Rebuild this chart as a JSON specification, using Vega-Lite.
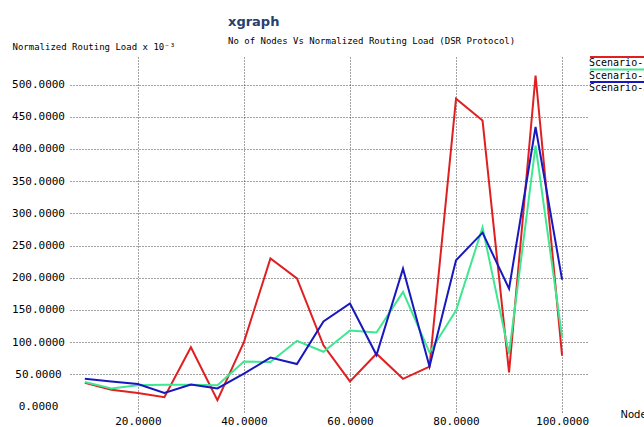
{
  "$schema": "https://vega.github.io/schema/vega-lite/v6.json",
  "width": 517,
  "height": 355,
  "autosize": {"type": "none"},
  "padding": {"left": 70, "top": 57, "right": 57, "bottom": 15},
  "background": "white",
  "title": {
    "text": "xgraph",
    "subtitle": "No of Nodes Vs Normalized Routing Load (DSR Protocol)",
    "anchor": "start",
    "frame": "group",
    "dx": 158,
    "offset": -4,
    "font": "DejaVu Sans",
    "fontSize": 13,
    "fontWeight": "bold",
    "color": "#27406e",
    "subtitleFont": "DejaVu Sans Mono",
    "subtitleFontSize": 9,
    "subtitleColor": "black",
    "subtitlePadding": 8
  },
  "data": {
    "values": [
      {"nodes": 10, "load": 37, "scenario": "Scenario-1"},
      {"nodes": 15, "load": 26, "scenario": "Scenario-1"},
      {"nodes": 20, "load": 21, "scenario": "Scenario-1"},
      {"nodes": 25, "load": 14.5, "scenario": "Scenario-1"},
      {"nodes": 30, "load": 92, "scenario": "Scenario-1"},
      {"nodes": 35, "load": 10, "scenario": "Scenario-1"},
      {"nodes": 40, "load": 100, "scenario": "Scenario-1"},
      {"nodes": 45, "load": 230, "scenario": "Scenario-1"},
      {"nodes": 50, "load": 199, "scenario": "Scenario-1"},
      {"nodes": 55, "load": 95, "scenario": "Scenario-1"},
      {"nodes": 60, "load": 39, "scenario": "Scenario-1"},
      {"nodes": 65, "load": 82, "scenario": "Scenario-1"},
      {"nodes": 70, "load": 43, "scenario": "Scenario-1"},
      {"nodes": 75, "load": 62, "scenario": "Scenario-1"},
      {"nodes": 80, "load": 478, "scenario": "Scenario-1"},
      {"nodes": 85, "load": 444, "scenario": "Scenario-1"},
      {"nodes": 90, "load": 53, "scenario": "Scenario-1"},
      {"nodes": 95, "load": 514, "scenario": "Scenario-1"},
      {"nodes": 100, "load": 79, "scenario": "Scenario-1"},
      {"nodes": 10, "load": 38, "scenario": "Scenario-2"},
      {"nodes": 15, "load": 28, "scenario": "Scenario-2"},
      {"nodes": 20, "load": 33, "scenario": "Scenario-2"},
      {"nodes": 25, "load": 34, "scenario": "Scenario-2"},
      {"nodes": 30, "load": 34, "scenario": "Scenario-2"},
      {"nodes": 35, "load": 33, "scenario": "Scenario-2"},
      {"nodes": 40, "load": 70, "scenario": "Scenario-2"},
      {"nodes": 45, "load": 69, "scenario": "Scenario-2"},
      {"nodes": 50, "load": 102, "scenario": "Scenario-2"},
      {"nodes": 55, "load": 85, "scenario": "Scenario-2"},
      {"nodes": 60, "load": 118, "scenario": "Scenario-2"},
      {"nodes": 65, "load": 115, "scenario": "Scenario-2"},
      {"nodes": 70, "load": 178, "scenario": "Scenario-2"},
      {"nodes": 75, "load": 84, "scenario": "Scenario-2"},
      {"nodes": 80, "load": 149, "scenario": "Scenario-2"},
      {"nodes": 85, "load": 278, "scenario": "Scenario-2"},
      {"nodes": 90, "load": 82, "scenario": "Scenario-2"},
      {"nodes": 95, "load": 405, "scenario": "Scenario-2"},
      {"nodes": 100, "load": 108, "scenario": "Scenario-2"},
      {"nodes": 10, "load": 43, "scenario": "Scenario-3"},
      {"nodes": 15, "load": 39, "scenario": "Scenario-3"},
      {"nodes": 20, "load": 35, "scenario": "Scenario-3"},
      {"nodes": 25, "load": 21, "scenario": "Scenario-3"},
      {"nodes": 30, "load": 34, "scenario": "Scenario-3"},
      {"nodes": 35, "load": 28, "scenario": "Scenario-3"},
      {"nodes": 40, "load": 51, "scenario": "Scenario-3"},
      {"nodes": 45, "load": 76, "scenario": "Scenario-3"},
      {"nodes": 50, "load": 66, "scenario": "Scenario-3"},
      {"nodes": 55, "load": 132, "scenario": "Scenario-3"},
      {"nodes": 60, "load": 160, "scenario": "Scenario-3"},
      {"nodes": 65, "load": 80, "scenario": "Scenario-3"},
      {"nodes": 70, "load": 214, "scenario": "Scenario-3"},
      {"nodes": 75, "load": 62, "scenario": "Scenario-3"},
      {"nodes": 80, "load": 227, "scenario": "Scenario-3"},
      {"nodes": 85, "load": 270, "scenario": "Scenario-3"},
      {"nodes": 90, "load": 183, "scenario": "Scenario-3"},
      {"nodes": 95, "load": 434, "scenario": "Scenario-3"},
      {"nodes": 100, "load": 197, "scenario": "Scenario-3"}
    ]
  },
  "mark": {"type": "line", "strokeWidth": 2, "clip": false},
  "encoding": {
    "x": {
      "field": "nodes",
      "type": "quantitative",
      "scale": {"domain": [7.2, 104.7], "nice": false, "zero": false},
      "axis": {
        "values": [20, 40, 60, 80, 100],
        "format": ".4f",
        "labelPadding": 3,
        "labelFlush": false,
        "title": "Nodes",
        "titleX": 550,
        "titleY": 2,
        "titleAlign": "left",
        "titleBaseline": "middle",
        "titleFont": "DejaVu Sans",
        "titleFontSize": 10,
        "titleFontWeight": "normal"
      }
    },
    "y": {
      "field": "load",
      "type": "quantitative",
      "scale": {"domain": [-8.5, 542.7], "nice": false, "zero": false},
      "axis": {
        "values": [0, 50, 100, 150, 200, 250, 300, 350, 400, 450, 500],
        "format": ".4f",
        "labelAlign": "center",
        "labelBaseline": "middle",
        "labelPadding": 32,
        "gridOpacity": {"condition": {"test": "datum.value == 0", "value": 0}, "value": 1},
        "title": "Normalized Routing Load x 10⁻³",
        "titleAngle": 0,
        "titleX": -58,
        "titleY": -11,
        "titleAlign": "left",
        "titleBaseline": "middle",
        "titleFont": "DejaVu Sans Mono",
        "titleFontSize": 9,
        "titleFontWeight": "normal"
      }
    },
    "color": {
      "field": "scenario",
      "type": "nominal",
      "scale": {
        "domain": ["Scenario-1", "Scenario-2", "Scenario-3"],
        "range": ["#e02020", "#3de890", "#1818c0"]
      },
      "legend": {
        "orient": "none",
        "legendX": 516,
        "legendY": 1,
        "title": null,
        "padding": 0,
        "symbolType": "M -1 -6 L 58 -6",
        "symbolSize": 4,
        "symbolStrokeWidth": 2,
        "labelOffset": -7,
        "rowPadding": -2.5,
        "labelFont": "DejaVu Sans Mono",
        "labelFontSize": 10,
        "labelColor": "black"
      }
    }
  },
  "config": {
    "view": {"stroke": null},
    "axis": {
      "domain": false,
      "ticks": false,
      "grid": true,
      "gridColor": "#444444",
      "gridDash": [1, 2],
      "gridWidth": 1,
      "labelFont": "DejaVu Sans Mono",
      "labelFontSize": 11,
      "labelColor": "black",
      "titleColor": "black"
    }
  }
}
